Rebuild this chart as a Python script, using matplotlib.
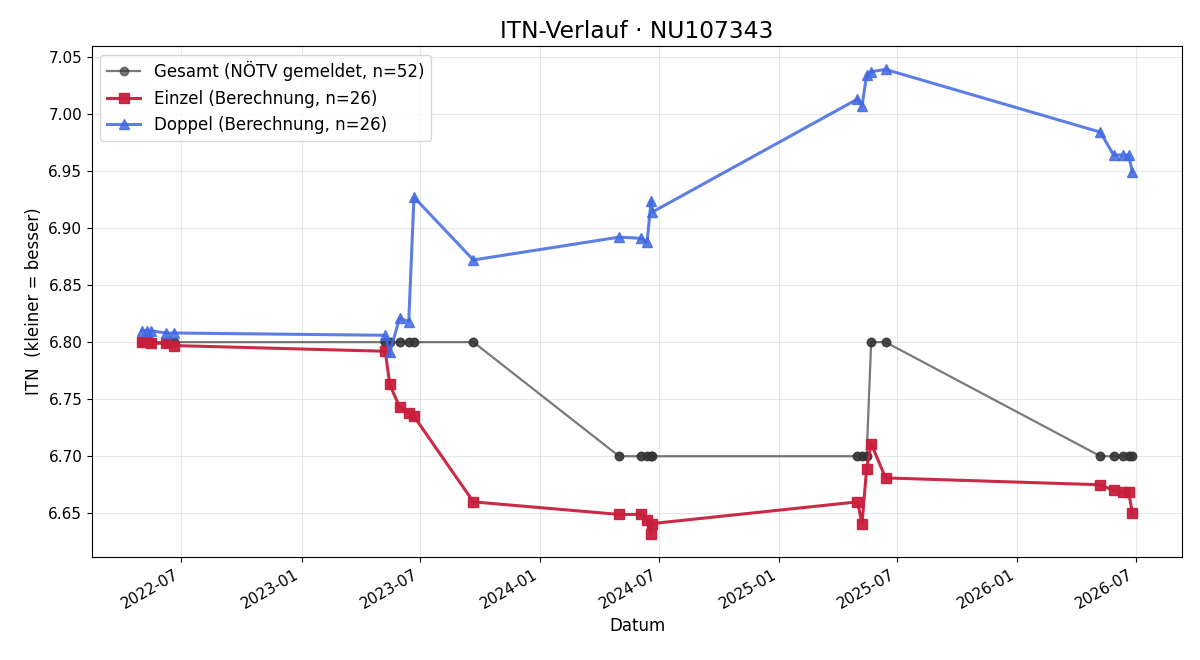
import matplotlib
matplotlib.use("Agg")
import matplotlib.pyplot as plt
import matplotlib.dates as mdates
import pandas as pd

# Spieltermine (Einzel und Doppel am selben Datum)
dates = [
    "2022-05-01", "2022-05-09", "2022-05-15", "2022-06-07", "2022-06-19",
    "2023-05-09", "2023-05-16", "2023-05-31", "2023-06-14", "2023-06-22",
    "2023-09-21",
    "2024-05-01", "2024-06-04", "2024-06-13", "2024-06-19", "2024-06-21",
    "2025-05-01", "2025-05-08", "2025-05-15", "2025-05-22", "2025-06-13",
    "2026-05-08", "2026-05-28", "2026-06-11", "2026-06-20", "2026-06-26",
]

einzel_itn = [
    6.800, 6.800, 6.799, 6.799, 6.797,
    6.792, 6.763, 6.743, 6.738, 6.735,
    6.660,
    6.649, 6.649, 6.644, 6.632, 6.641,
    6.660, 6.641, 6.689, 6.711, 6.681,
    6.675, 6.670, 6.669, 6.669, 6.650,
]

doppel_itn = [
    6.810, 6.810, 6.810, 6.808, 6.808,
    6.806, 6.791, 6.821, 6.818, 6.927,
    6.872,
    6.892, 6.891, 6.888, 6.924, 6.914,
    7.013, 7.007, 7.034, 7.037, 7.039,
    6.984, 6.964, 6.964, 6.964, 6.949,
]

# gemeldeter Gesamt-ITN, je Termin zwei Meldungen (Einzel + Doppel)
gesamt_per_date = [
    6.80, 6.80, 6.80, 6.80, 6.80,
    6.80, 6.80, 6.80, 6.80, 6.80,
    6.80,
    6.70, 6.70, 6.70, 6.70, 6.70,
    6.70, 6.70, 6.70, 6.80, 6.80,
    6.70, 6.70, 6.70, 6.70, 6.70,
]

d = pd.to_datetime(dates)
gesamt_dates = [x for x in d for _ in range(2)]
gesamt_itn = [v for v in gesamt_per_date for _ in range(2)]

fig, ax = plt.subplots(figsize=(12, 6.6), dpi=100)

ax.plot(gesamt_dates, gesamt_itn, '-o', color='#333333', alpha=0.65,
        linewidth=1.6, markersize=6, label=f'Gesamt (NÖTV gemeldet, n={len(gesamt_itn)})')
ax.plot(d, einzel_itn, '-s', color='#c81e3c', alpha=0.95,
        linewidth=2.2, markersize=7, label=f'Einzel (Berechnung, n={len(einzel_itn)})')
ax.plot(d, doppel_itn, '-^', color='royalblue', alpha=0.85,
        linewidth=2.2, markersize=7, label=f'Doppel (Berechnung, n={len(doppel_itn)})')

ax.set_title('ITN-Verlauf · NU107343', fontsize=16.8)
ax.set_xlabel('Datum', fontsize=12)
ax.set_ylabel('ITN  (kleiner = besser)', fontsize=12)
ax.tick_params(labelsize=11)
ax.xaxis.set_major_locator(mdates.MonthLocator(bymonth=[1, 7]))
ax.xaxis.set_major_formatter(mdates.DateFormatter('%Y-%m'))
ax.grid(True, alpha=0.3)
ax.legend(loc='upper left', fontsize=12)
fig.autofmt_xdate()

fig.subplots_adjust(left=0.0767, right=0.985, top=0.930, bottom=0.156)
plt.savefig('out.png', dpi=100)
